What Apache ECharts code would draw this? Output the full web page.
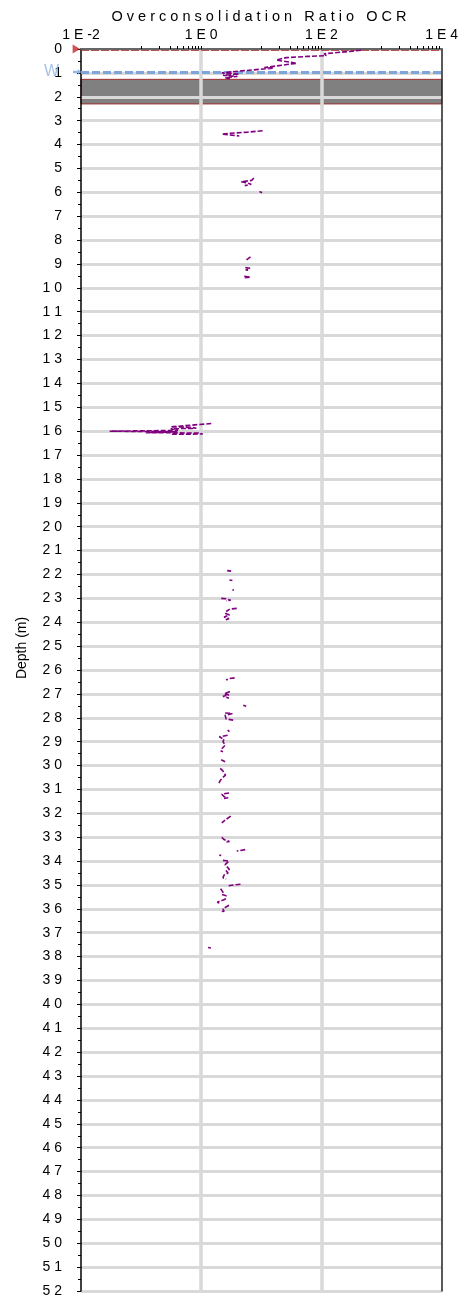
<!DOCTYPE html>
<html><head><meta charset="utf-8">
<script src="https://cdn.jsdelivr.net/npm/echarts@6/dist/echarts.min.js"></script>
<style>html,body{margin:0;padding:0;background:#fff}#c{width:461px;height:1298px}</style>
</head><body><div id="c"></div>
<script>
// OCR trace (null = break between segments)
const ocrValues = [
  455,300,111,120,60,26,17.7,39,25,11.2,16,3.35,2.2,4.3,2.3,4.0,2.5,3.0, null,
  10.5,6,3,2.2,2.2,4.3, null,
  7.5,6.9,4.6,5.6,6.8,5.3, null,
  9.3,10.3, null,
  6.6,5.5, null,
  5.4,6.5,5.5,6.4, null,
  5.2,6.6,5.3, null,
  1.47,0.68,0.31,0.68,0.83,0.31,0.41,0.03,0.4,0.12,0.9,1.06,0.3, null,
  2.7,3.15, null,
  2.95,3.3, null,
  3.3,3.5, null,
  2.15,2.6,3.1,2.6, null,
  3.9,3.0,2.6, null,
  2.5,2.95,2.4,2.9,2.5, null,
  3.6,2.9,2.6, null,
  3.0,2.4,2.9,2.3,2.9, null,
  5.0,5.6, null,
  2.5,3.3,2.5,2.6,3.4, null,
  2.75,2.95, null,
  2.75,2.0,2.4,2.3,2.5,2.2, null,
  2.1,2.3, null,
  2.15,2.5, null,
  2.07,2.29,2.53,2.29,2.07,1.96, null,
  2.9,2.2,2.4,2.8,2.2, null,
  3.1,2.6,2.2, null,
  2.2,2.4,2.95,2.6, null,
  5.4,3.9, null,
  2.0,2.15, null,
  2.3,2.9,2.5,2.95,2.6,2.8,2.4,2.3,2.6, null,
  4.5,3.0,2.75, null,
  2.1,2.3,2.2,2.6,2.5,1.85,2.0, null,
  2.9,2.6,2.3,2.4,2.1, null,
  1.3,1.45
];
const depthValues = [
  0.05,0.10,0.20,0.28,0.31,0.36,0.46,0.60,0.66,0.78,0.80,0.95,1.00,1.05,1.10,1.15,1.20,1.24, null,
  3.42,3.48,3.53,3.56,3.62,3.64, null,
  5.40,5.50,5.56,5.60,5.66,5.72, null,
  5.97,6.02, null,
  8.70,8.85, null,
  9.15,9.18,9.25,9.27, null,
  9.52,9.55,9.58, null,
  15.68,15.75,15.82,15.84,15.88,15.90,15.97,16.00,16.03,16.06,16.08,16.12,16.13, null,
  21.84,21.86, null,
  22.23,22.25, null,
  22.64,22.66, null,
  23.00,23.02,23.08,23.10, null,
  23.42,23.45,23.55, null,
  23.62,23.70,23.78,23.85,23.90, null,
  26.33,26.36,26.42, null,
  26.90,27.00,27.05,27.10,27.18, null,
  27.48,27.52, null,
  27.80,27.82,27.90,28.05,28.10, null,
  28.52,28.58, null,
  28.73,28.80,28.90,29.00,29.15,29.30, null,
  29.38,29.42, null,
  29.76,29.84, null,
  30.12,30.22,30.40,30.50,30.63,30.75, null,
  31.15,31.20,31.30,31.35,31.40, null,
  32.12,32.25,32.40, null,
  33.00,33.10,33.18,33.20, null,
  33.52,33.58, null,
  33.75,33.77, null,
  33.97,34.00,34.15,34.35,34.40,34.50,34.58,34.70,34.75, null,
  34.97,35.02,35.08, null,
  35.16,35.30,35.40,35.45,35.60,35.72,35.76, null,
  35.85,35.92,36.00,36.10,36.12, null,
  37.62,37.64
];
const xTickValues = [0.01, 1, 100, 10000];
const xTickLabels = ['1 E -2', '1 E 0', '1 E 2', '1 E 4'];
const xGridValues = [1, 100];
const xMinorTicks = [1, 0.1,0.2,0.3,0.4,0.5,0.6,0.7,0.8,0.9, 10,20,30,40,50,60,70,80,90,100, 1000,2000,3000,4000,5000,6000,7000,8000,9000];
const depthMin = 0, depthMax = 52;
const groundSurfaceDepth = 0;
const waterTableDepth = 0.96;
const bandDepths = [1.27, 2.3];

const FONT = 'Liberation Sans, Arial, sans-serif';
const chart = echarts.init(document.getElementById('c'), null, {renderer: 'canvas'});
const seriesData = ocrValues.map((v, i) => (v == null ? [NaN, NaN] : [v, depthValues[i]]));

function xLabel(v) {
  const i = xTickValues.findIndex(t => Math.abs(Math.log10(t) - Math.log10(v)) < 1e-6);
  return i >= 0 ? xTickLabels[i] : '';
}

chart.setOption({
  animation: false,
  backgroundColor: '#fff',
  title: {
    text: 'O v e r c o n s o l i d a t i o n   R a t i o   O C R',
    left: 254, top: 4, textAlign: 'center',
    textStyle: {fontSize: 14.5, fontWeight: 'normal', color: '#000', fontFamily: FONT}
  },
  grid: {left: 81, right: 18, top: 49, bottom: 7, containLabel: false},
  xAxis: [{
    type: 'log', logBase: 10, position: 'top', min: 0.01, max: 10000, z: 6, offset: 1,
    axisLine: {show: true, lineStyle: {color: '#000', width: 1.5}},
    axisTick: {show: true, customValues: xMinorTicks, length: 3, lineStyle: {color: '#000', width: 1}},
    axisLabel: {customValues: xTickValues, formatter: xLabel, margin: 6, fontSize: 14, color: '#000', fontFamily: FONT},
    splitLine: {show: false}, minorTick: {show: false}
  }, {
    type: 'log', logBase: 10, position: 'bottom', min: 0.01, max: 10000, z: 6,
    axisLine: {show: true, lineStyle: {color: '#666', width: 2}},
    axisTick: {show: false}, axisLabel: {show: false}, splitLine: {show: false}
  }],
  yAxis: [{
    type: 'value', inverse: true, min: depthMin, max: depthMax, interval: 1, z: 2,
    name: 'Depth (m)', nameLocation: 'middle', nameGap: 52,
    nameTextStyle: {fontSize: 14, color: '#000', fontFamily: FONT, padding: [0, 0, 0, 44]},
    axisLine: {show: true, lineStyle: {color: '#000', width: 1.5}},
    axisTick: {show: true, length: 4, lineStyle: {color: '#000', width: 1}},
    minorTick: {show: true, splitNumber: 2, length: 3, lineStyle: {color: '#000', width: 1}},
    axisLabel: {margin: 19, fontSize: 14, color: '#000', fontFamily: FONT,
      formatter: v => String(v).split('').join(' ')},
    splitLine: {show: true, lineStyle: {color: '#d9d9d9', width: 3}}
  }, {
    type: 'value', inverse: true, min: depthMin, max: depthMax, position: 'right', z: 6,
    axisLine: {show: true, lineStyle: {color: '#222', width: 1.5}},
    axisTick: {show: false}, axisLabel: {show: false}, splitLine: {show: false}
  }],
  series: [{
    type: 'line', data: [], z: 1, silent: true,
    markArea: {
      silent: true,
      itemStyle: {color: '#808080', borderColor: '#a03030', borderWidth: 1},
      data: [[{yAxis: bandDepths[0]}, {yAxis: bandDepths[1]}]]
    },
    markLine: {
      silent: true, symbol: ['none', 'none'], label: {show: false},
      data: [
        ...xGridValues.map(v => ({xAxis: v, lineStyle: {color: '#d9d9d9', width: 3.5, type: 'solid'}})),
        {yAxis: groundSurfaceDepth, lineStyle: {color: '#a52a2a', width: 2.5, type: [8, 2]}},
        {yAxis: waterTableDepth, lineStyle: {color: '#7ea6da', width: 3, type: [8, 3]}}
      ]
    }
  }, {
    type: 'scatter', clip: false, z: 8, silent: true,
    data: [
      {value: [xTickValues[0], groundSurfaceDepth], symbol: 'path://M0,0 L10,5 L0,10 Z',
       symbolSize: [7.5, 9], symbolOffset: [-4.6, 0], itemStyle: {color: '#c0282d'}},
      {value: [xTickValues[0], waterTableDepth], symbol: 'path://M0,3 L6,3 L6,0 L10,5 L6,10 L6,7 L0,7 Z',
       symbolSize: [8, 6], symbolOffset: [-4, 0], itemStyle: {color: '#7ea6da'},
       label: {show: true, position: 'left', distance: 14, formatter: 'W', color: '#8db4e2', fontSize: 16, fontFamily: FONT}}
    ]
  }, {
    type: 'line', name: 'OCR', data: seriesData, z: 10, showSymbol: false, symbol: 'none',
    connectNulls: false, silent: true,
    lineStyle: {color: '#800080', width: 1.6, type: [5, 2]}
  }]
});
</script></body></html>
